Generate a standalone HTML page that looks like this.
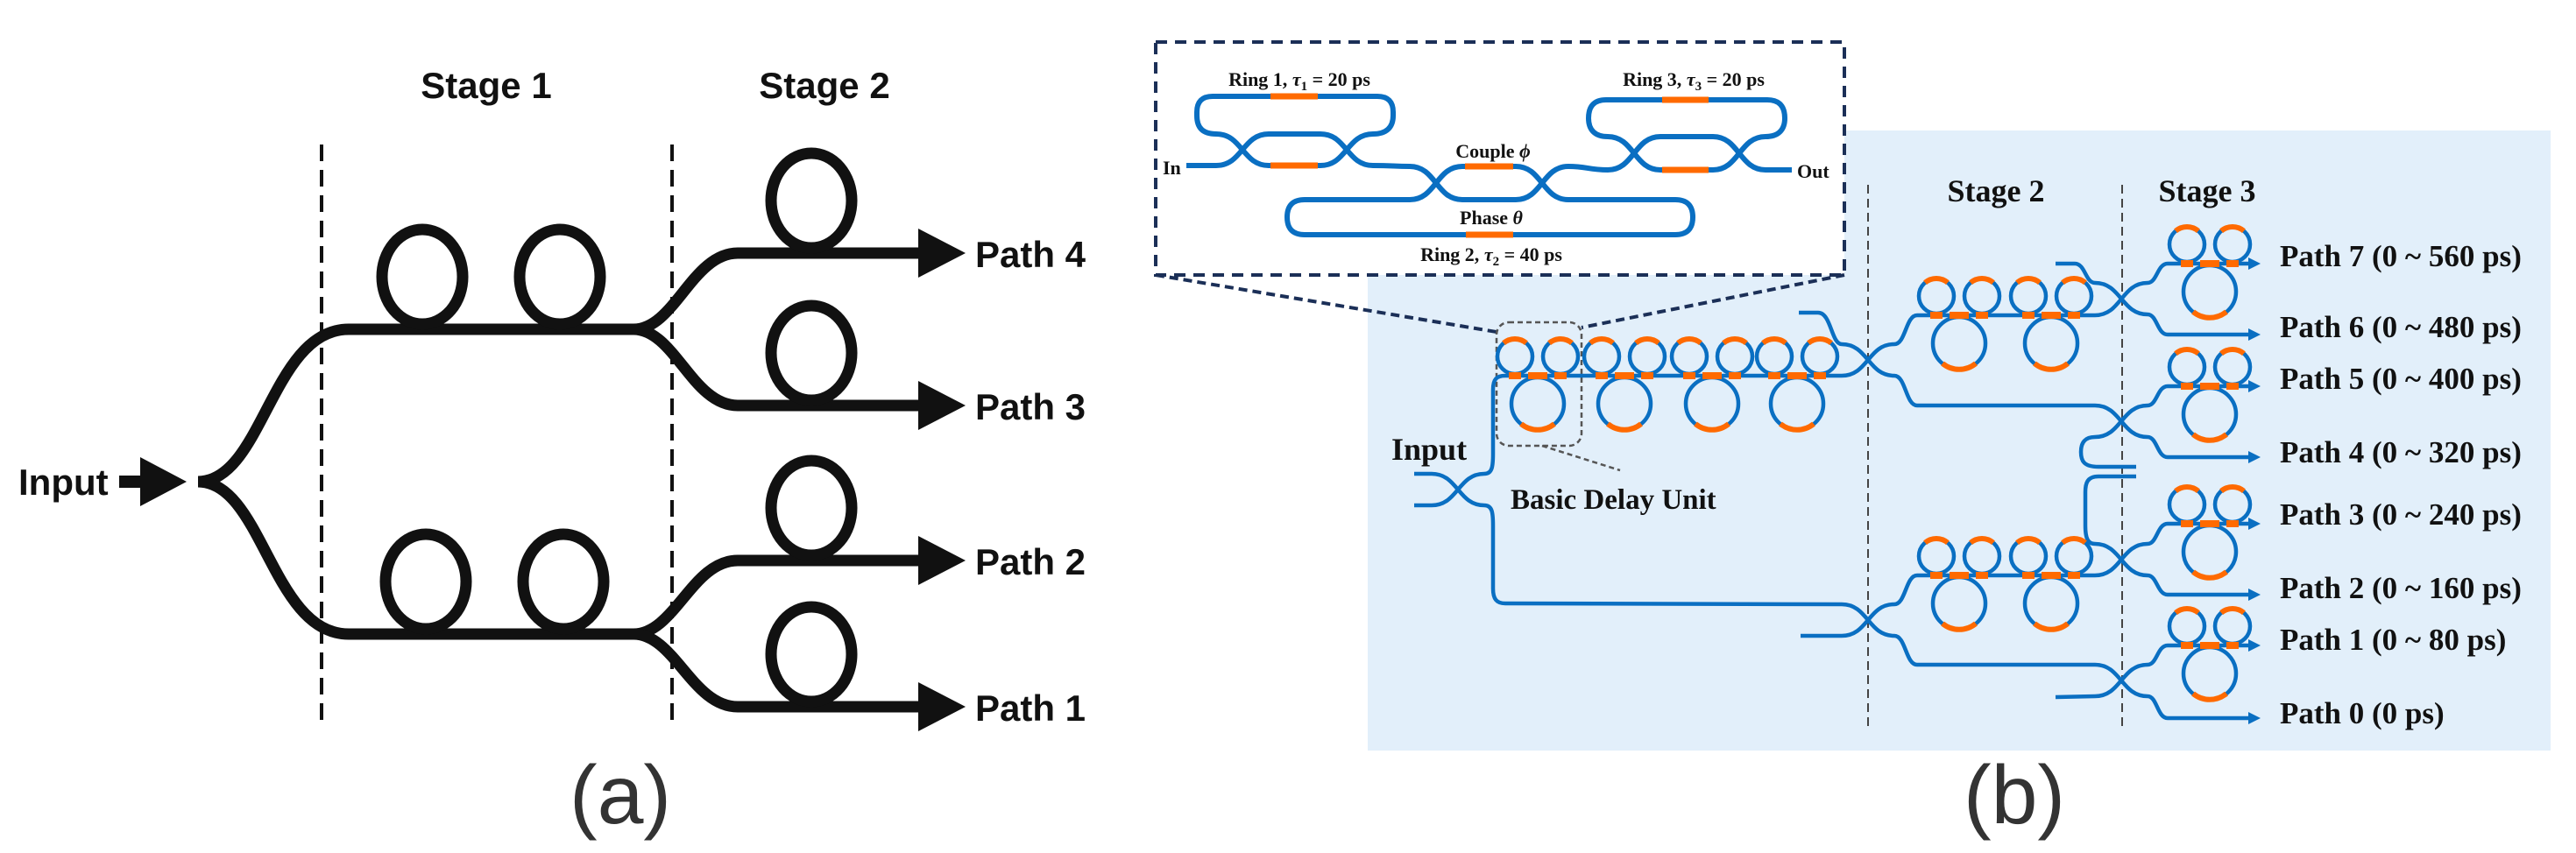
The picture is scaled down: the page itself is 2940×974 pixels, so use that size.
<!DOCTYPE html>
<html><head><meta charset="utf-8"><style>
html,body{margin:0;padding:0;background:#fff;}
svg{display:block;}
.a{font-family:"Liberation Sans",Arial,sans-serif;font-weight:bold;fill:#111;}
.t{font-family:"Liberation Serif","Times New Roman",serif;font-weight:bold;fill:#111;}
.b{fill:none;stroke:#0a6fc2;stroke-width:4.5;}
.bi{fill:none;stroke:#0a6fc2;stroke-width:6;}
.o{fill:none;stroke:#ff6a00;stroke-width:6;}
.k{fill:none;stroke:#111;stroke-width:13;}
</style></head><body>
<svg width="2940" height="974" viewBox="0 0 2940 974" xmlns="http://www.w3.org/2000/svg">
<defs>
<g id="unit">
<circle cx="-26" cy="-22" r="20" class="b"/>
<circle cx="26" cy="-22" r="20" class="b"/>
<circle cx="0" cy="32" r="30" class="b"/>
<path d="M-38.9,-37.3 A20,20 0 0 1 -13.1,-37.3" class="o"/>
<path d="M13.1,-37.3 A20,20 0 0 1 38.9,-37.3" class="o"/>
<path d="M-19,55 A30,30 0 0 0 19,55" class="o"/>
<rect x="-33" y="-4" width="14" height="8" fill="#ff6a00"/>
<rect x="19" y="-4" width="14" height="8" fill="#ff6a00"/>
<rect x="-11" y="-4" width="22" height="8" fill="#ff6a00"/>
</g>
<polygon id="ah" points="0,-7 14,0 0,7" fill="#0a6fc2"/>
<polygon id="bh" points="0,-28 54,0 0,28" fill="#111"/>
</defs>

<!-- ============ Panel (a) ============ -->
<text x="555" y="112" class="a" font-size="42" text-anchor="middle">Stage 1</text>
<text x="941" y="112" class="a" font-size="42" text-anchor="middle">Stage 2</text>
<line x1="367" y1="165" x2="367" y2="832" stroke="#111" stroke-width="4" stroke-dasharray="19,10"/>
<line x1="767" y1="165" x2="767" y2="832" stroke="#111" stroke-width="4" stroke-dasharray="19,10"/>
<text x="21" y="565" class="a" font-size="42">Input</text>
<polygon points="136,543 160,543 160,522 213,550 160,578 160,557 136,557" fill="#111"/>
<path class="k" d="M226,550 C300,550 310,376 398,376 L723,376 C770,376 790,289 842,289 L1050,289"/>
<path class="k" d="M723,376 C770,376 790,463 842,463 L1050,463"/>
<path class="k" d="M226,550 C300,550 310,724 398,724 L723,724 C770,724 790,640 842,640 L1050,640"/>
<path class="k" d="M723,724 C770,724 790,807 842,807 L1050,807"/>
<use href="#bh" x="1048" y="289"/><use href="#bh" x="1048" y="463"/>
<use href="#bh" x="1048" y="640"/><use href="#bh" x="1048" y="807"/>
<g class="k">
<ellipse cx="482" cy="316" rx="46" ry="54"/><ellipse cx="639" cy="316" rx="46" ry="54"/>
<ellipse cx="486" cy="664" rx="46" ry="54"/><ellipse cx="643" cy="664" rx="46" ry="54"/>
<ellipse cx="926" cy="229" rx="46" ry="54"/><ellipse cx="926" cy="403" rx="46" ry="54"/>
<ellipse cx="926" cy="580" rx="46" ry="54"/><ellipse cx="926" cy="747" rx="46" ry="54"/>
</g>
<text x="1113" y="305" class="a" font-size="42">Path 4</text>
<text x="1113" y="479" class="a" font-size="42">Path 3</text>
<text x="1113" y="656" class="a" font-size="42">Path 2</text>
<text x="1113" y="823" class="a" font-size="42">Path 1</text>
<text x="708" y="940" font-family="Liberation Sans,Arial,sans-serif" font-size="95" fill="#333" text-anchor="middle">(a)</text>

<!-- ============ Panel (b) ============ -->
<rect x="1561" y="149" width="1350" height="708" fill="#e2effa"/>

<!-- inset -->
<rect x="1319" y="48" width="786" height="266" fill="#fff" stroke="#1b2f57" stroke-width="4" stroke-dasharray="13,9"/>
<line x1="1319" y1="314" x2="1708" y2="379" stroke="#1b2f57" stroke-width="4" stroke-dasharray="10,6"/>
<line x1="2105" y1="314" x2="1805" y2="374" stroke="#1b2f57" stroke-width="4" stroke-dasharray="10,6"/>
<rect x="1708" y="368" width="97" height="141" rx="14" fill="none" stroke="#555" stroke-width="2.5" stroke-dasharray="6,4"/>
<line x1="1760" y1="509" x2="1849" y2="537" stroke="#555" stroke-width="2.5" stroke-dasharray="6,4"/>

<g class="bi">
<path d="M1354,189 L1388,189 C1418,189 1418,153 1448,153 L1507,153 C1537,153 1537,189 1567,189 C1590,189 1590,190 1609,190 C1639,190 1639,228 1669,228 L1730,228 C1760,228 1760,190 1790,190 C1812,190 1812,194 1835,194 C1865,194 1865,156 1895,156 L1955,156 C1985,156 1985,194 2015,194 L2045,194"/>
<path d="M1567,153 C1583,153 1590,145 1590,132 L1590,128 Q1590,110 1572,110 L1384,110 Q1366,110 1366,128 L1366,132 C1366,145 1372,153 1388,153 C1418,153 1418,189 1448,189 L1507,189 C1537,189 1537,153 1567,153"/>
<path d="M1609,228 L1489,228 Q1469,228 1469,248 Q1469,268 1489,268 L1912,268 Q1932,268 1932,248 Q1932,228 1912,228 L1790,228 C1760,228 1760,190 1730,190 L1669,190 C1639,190 1639,228 1609,228"/>
<path d="M1835,156 C1820,156 1813,148 1813,135 Q1813,114 1833,114 L2017,114 Q2037,114 2037,135 C2037,148 2030,156 2015,156 C1985,156 1985,194 1955,194 L1895,194 C1865,194 1865,156 1835,156"/>
</g>
<g stroke="#ff6a00" stroke-width="7">
<line x1="1450" y1="110" x2="1504" y2="110"/><line x1="1450" y1="189" x2="1504" y2="189"/>
<line x1="1672" y1="190" x2="1727" y2="190"/><line x1="1673" y1="268" x2="1727" y2="268"/>
<line x1="1897" y1="114" x2="1950" y2="114"/><line x1="1897" y1="194" x2="1950" y2="194"/>
</g>
<text x="1483" y="98" class="t" font-size="22" text-anchor="middle">Ring 1, <tspan font-style="italic">τ</tspan><tspan font-size="15" dy="5">1</tspan><tspan dy="-5"> = 20 ps</tspan></text>
<text x="1933" y="98" class="t" font-size="22" text-anchor="middle">Ring 3, <tspan font-style="italic">τ</tspan><tspan font-size="15" dy="5">3</tspan><tspan dy="-5"> = 20 ps</tspan></text>
<text x="1704" y="180" class="t" font-size="22" text-anchor="middle">Couple <tspan font-style="italic">ϕ</tspan></text>
<text x="1702" y="256" class="t" font-size="22" text-anchor="middle">Phase <tspan font-style="italic">θ</tspan></text>
<text x="1702" y="298" class="t" font-size="22" text-anchor="middle">Ring 2, <tspan font-style="italic">τ</tspan><tspan font-size="15" dy="5">2</tspan><tspan dy="-5"> = 40 ps</tspan></text>
<text x="1327" y="199" class="t" font-size="22">In</text>
<text x="2051" y="203" class="t" font-size="22">Out</text>

<!-- stage dashed lines -->
<line x1="2132" y1="211" x2="2132" y2="829" stroke="#444" stroke-width="2" stroke-dasharray="10,6"/>
<line x1="2422" y1="211" x2="2422" y2="829" stroke="#444" stroke-width="2" stroke-dasharray="10,6"/>
<text x="2278" y="230" class="t" font-size="36" text-anchor="middle">Stage 2</text>
<text x="2519" y="230" class="t" font-size="36" text-anchor="middle">Stage 3</text>
<text x="1588" y="525" class="t" font-size="36">Input</text>
<text x="1724" y="581" class="t" font-size="33">Basic Delay Unit</text>

<!-- waveguides -->
<g class="b">
<path d="M1614,541 L1634,541 C1664,541 1664,577 1694,577 C1703,577 1704,585 1704,600 L1704,672 C1704,684 1708,689 1718,689 L2102,690 C2132,690 2132,726 2162,726 C2175,726 2175,759 2188,759 L2391,759 C2421,759 2421,795 2451,795 C2462,795 2462,820 2474,820 L2568,820"/>
<path d="M1614,577 L1634,577 C1664,577 1664,541 1694,541 C1703,541 1704,533 1704,518 L1704,445 C1704,433 1708,429 1718,429 L2102,429 C2132,429 2132,393 2162,393 C2175,393 2175,360 2188,360 L2391,360 C2421,360 2421,323 2451,323 C2462,323 2462,301 2474,301 L2568,301"/>
<path d="M2053,357 L2075,357 C2090,357 2090,393 2102,393 C2132,393 2132,429 2162,429 C2175,429 2175,463 2188,463 L2391,463 C2421,463 2421,499 2451,499 C2462,499 2462,522 2474,522 L2568,522"/>
<path d="M2346,301 L2368,301 C2380,301 2380,323 2391,323 C2421,323 2421,359 2451,359 C2462,359 2462,382 2474,382 L2568,382"/>
<path d="M2438,533 L2395,533 C2378,533 2375,526 2375,516 C2375,505 2380,499 2391,499 C2421,499 2421,463 2451,463 C2462,463 2462,441 2474,441 L2568,441"/>
<path d="M2438,544 L2395,544 C2382,544 2380,552 2380,562 L2380,600 C2380,615 2383,621 2391,621 C2421,621 2421,657 2451,657 C2462,657 2462,679 2474,679 L2568,679"/>
<path d="M2055,726 L2102,726 C2132,726 2132,690 2162,690 C2175,690 2175,657 2188,657 L2391,657 C2421,657 2421,621 2451,621 C2462,621 2462,598 2474,598 L2568,598"/>
<path d="M2346,796 L2391,795 C2421,795 2421,759 2451,759 C2462,759 2462,737 2474,737 L2568,737"/>
</g>
<use href="#ah" x="2566" y="301"/><use href="#ah" x="2566" y="382"/>
<use href="#ah" x="2566" y="441"/><use href="#ah" x="2566" y="522"/>
<use href="#ah" x="2566" y="598"/><use href="#ah" x="2566" y="679"/>
<use href="#ah" x="2566" y="737"/><use href="#ah" x="2566" y="820"/>

<!-- ring units -->
<use href="#unit" x="1755" y="429"/><use href="#unit" x="1854" y="429"/>
<use href="#unit" x="1954" y="429"/><use href="#unit" x="2051" y="429"/>
<use href="#unit" x="2236" y="360"/><use href="#unit" x="2341" y="360"/>
<use href="#unit" x="2236" y="657"/><use href="#unit" x="2341" y="657"/>
<use href="#unit" x="2522" y="301"/><use href="#unit" x="2522" y="441"/>
<use href="#unit" x="2522" y="598"/><use href="#unit" x="2522" y="737"/>

<g class="t" font-size="35">
<text x="2602" y="304">Path 7 (0 ~ 560 ps)</text>
<text x="2602" y="385">Path 6 (0 ~ 480 ps)</text>
<text x="2602" y="444">Path 5 (0 ~ 400 ps)</text>
<text x="2602" y="528">Path 4 (0 ~ 320 ps)</text>
<text x="2602" y="599">Path 3 (0 ~ 240 ps)</text>
<text x="2602" y="683">Path 2 (0 ~ 160 ps)</text>
<text x="2602" y="742">Path 1 (0 ~ 80 ps)</text>
<text x="2602" y="826">Path 0 (0 ps)</text>
</g>
<text x="2299" y="940" font-family="Liberation Sans,Arial,sans-serif" font-size="95" fill="#333" text-anchor="middle">(b)</text>
</svg>
</body></html>
